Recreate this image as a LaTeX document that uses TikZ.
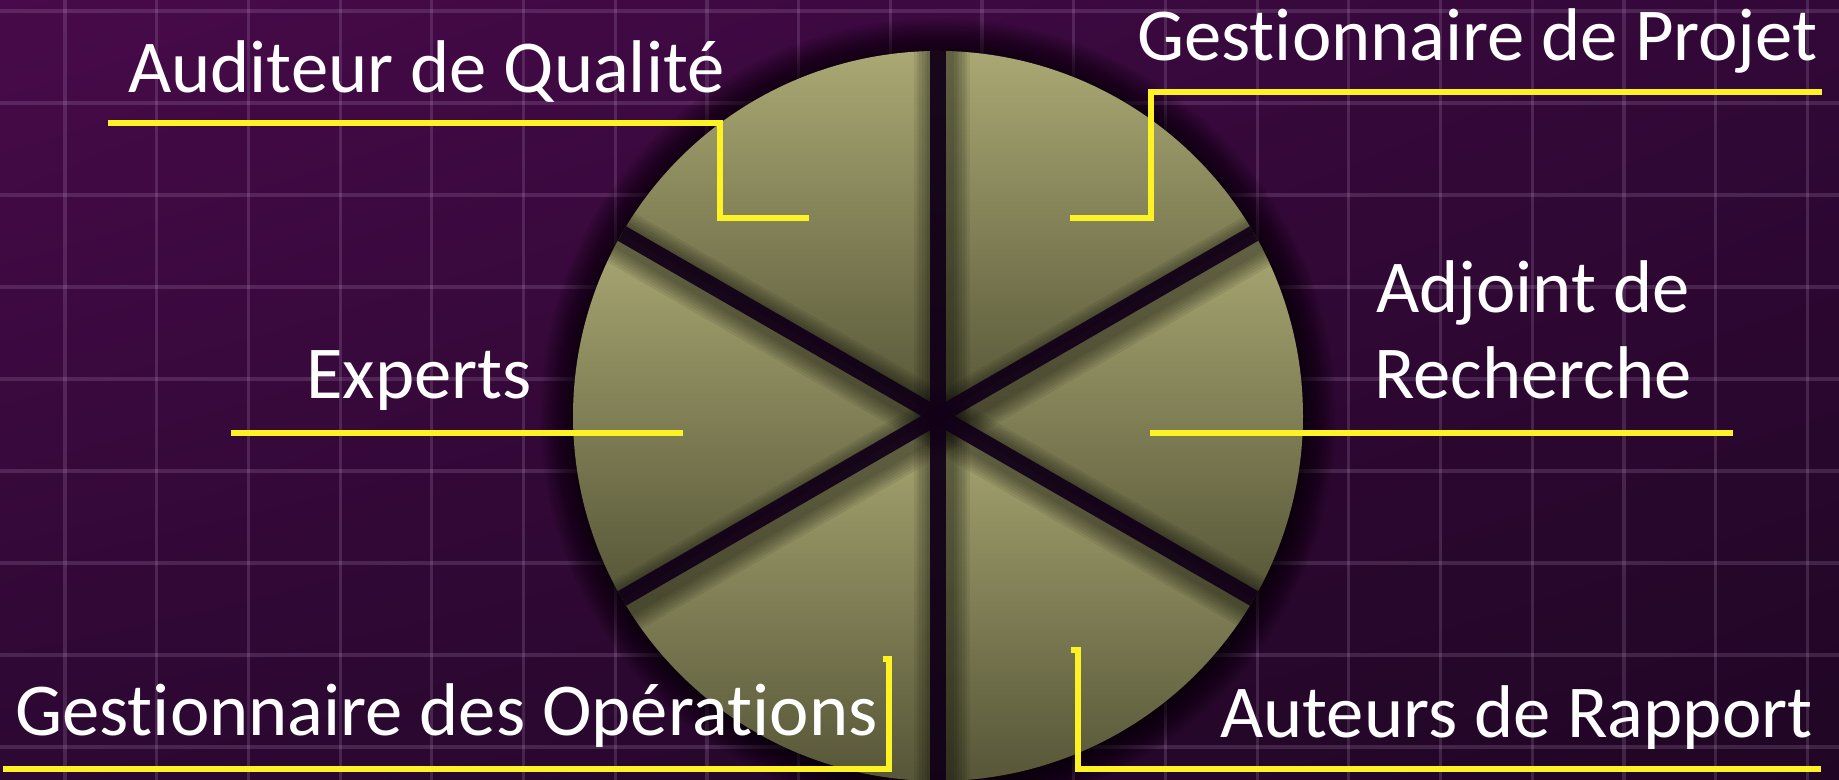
\documentclass[tikz,border=0pt]{standalone}
\usepackage{fontspec}
\setmainfont{Carlito}[Ligatures=NoCommon]
\usepackage{tikz}
\usepackage{xcolor}
\usetikzlibrary{shadings}
\definecolor{bgtl}{RGB}{72,10,74}
\definecolor{bgtr}{RGB}{50,8,56}
\definecolor{bgbl}{RGB}{44,8,50}
\definecolor{bgbr}{RGB}{32,6,36}
\definecolor{gridcol}{RGB}{214,180,224}
\definecolor{slicetop}{RGB}{170,168,115}
\definecolor{slicebot}{RGB}{86,86,56}
\definecolor{gapcol}{RGB}{18,0,24}
\definecolor{calloutyellow}{RGB}{252,242,36}
\tikzset{
  gridline/.style={gridcol, opacity=0.17, line width=2.4},
  callout/.style={calloutyellow, line width=4.9},
  rolelabel/.style={text=white, font=\fontsize{56}{65}\selectfont, inner sep=0pt},
  slice/.style={top color=slicetop, bottom color=slicebot},
  gapshade/.style={black, opacity=0.07},
  gap/.style={gapcol, opacity=0.92, line width=12.5},
}

\begin{document}
\begin{tikzpicture}[x=0.75pt,y=0.75pt,yscale=-1,xscale=1]
\useasboundingbox (0,0) rectangle (1839,780);
\shade[upper left=bgtl, upper right=bgtr, lower left=bgbl, lower right=bgbr] (0,0) rectangle (1839,780);
\foreach \k in {0,...,19} \draw[gridline] (65+91.7*\k,0) -- (65+91.7*\k,780);
\foreach \k in {0,...,8} \draw[gridline] (0,11+92*\k) -- (1839,11+92*\k);

\coordinate (pc) at (938,416);
\foreach \r in {1,...,14} \fill[black, opacity=0.065] (pc) circle[radius=364+2.4*\r];
\foreach \a in {30,90,150,210,270,330}
  \shade[slice] (pc) -- ++(\a:365) arc[start angle=\a, end angle=\a+60, radius=365] -- cycle;
\begin{scope}
  \clip (pc) circle[radius=365];
  \foreach \a in {30,90,150}
    \foreach \w in {18,22,...,42}
      \draw[gapshade, line width=\w] (pc) ++(4,7) ++(\a:380) -- ++(\a+180:760);
  \foreach \a in {30,90,150} \draw[gap] (pc) ++(\a:380) -- ++(\a+180:760);
\end{scope}

\coordinate (qa-a) at (108,123);
\coordinate (qa-b) at (720,218);
\coordinate (qa-c) at (809,218);
\coordinate (pj-a) at (1070,218);
\coordinate (pj-b) at (1151,92);
\coordinate (pj-c) at (1822,92);
\coordinate (ex-a) at (231,433);
\coordinate (ex-b) at (683,433);
\coordinate (ad-a) at (1150,433);
\coordinate (ad-b) at (1733,433);
\coordinate (op-a) at (883,659);
\coordinate (op-b) at (889,659);
\coordinate (op-c) at (3,769);
\coordinate (ra-a) at (1071,650);
\coordinate (ra-b) at (1078,650);
\coordinate (ra-c) at (1821,769);

\draw[callout] (qa-a) -| (qa-b) -- (qa-c);
\draw[callout] (pj-a) -| (pj-b) -- (pj-c);
\draw[callout] (ex-a) -- (ex-b);
\draw[callout] (ad-a) -- (ad-b);
\draw[callout] (op-a) -- (op-b) |- (op-c);
\draw[callout] (ra-a) -- (ra-b) |- (ra-c);

\node[rolelabel, anchor=base west] (auditeur) at (128,93) {Auditeur de Qualité};
\node[rolelabel, anchor=base west] (projet) at (1137,61) {Gestionnaire de Projet};
\node[rolelabel, anchor=base west] (experts) at (306,399) {Experts};
\node[rolelabel, anchor=base, align=center] (adjoint) at (1533,399) {Adjoint de\\Recherche};
\node[rolelabel, anchor=base west] (operations) at (15,735) {Gestionnaire des Opérations};
\node[rolelabel, anchor=base west] (rapport) at (1220,737) {Auteurs de Rapport};
\end{tikzpicture}
\end{document}
